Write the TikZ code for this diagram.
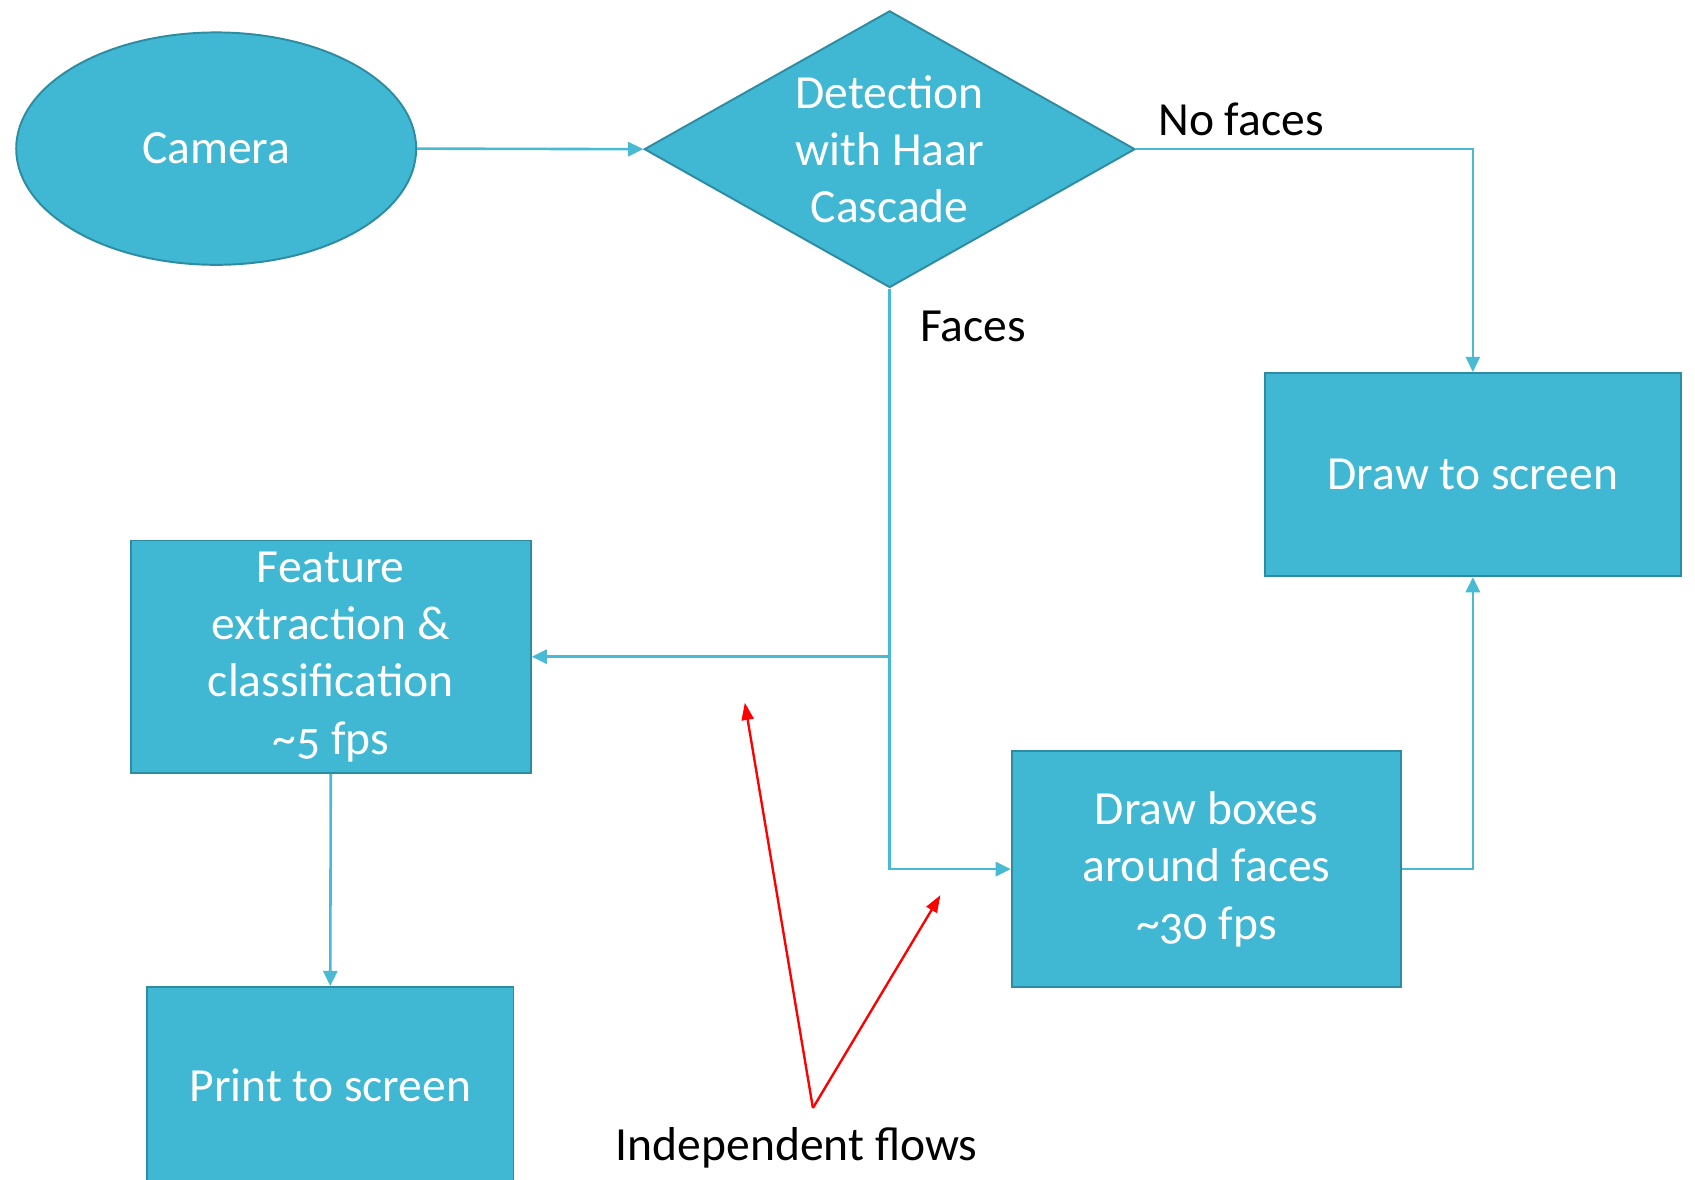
\documentclass[tikz,border=0pt]{standalone}
\usepackage{fontspec}
\setmainfont{Carlito}[Numbers=OldStyle]
\usetikzlibrary{shapes.geometric,arrows.meta}
\definecolor{boxfill}{HTML}{41B8D3}
\definecolor{boxline}{HTML}{2E8CA2}
\definecolor{connc}{HTML}{48BAD4}
\tikzset{
  x=1pt,y=-1pt,
  base/.style={fill=boxfill,draw=boxline,line width=1.8pt,text=white,inner sep=0pt,
    font=\fontsize{44}{53}\selectfont,align=center},
  camshape/.style={base,ellipse,minimum width=370pt,minimum height=215pt},
  decshape/.style={base,diamond,minimum width=454pt,minimum height=256pt,aspect=1.77},
  procbox/.style={base,rectangle},
  conn/.style={draw=connc,line width=2.4pt,-{Triangle[length=14pt,width=13pt]}},
  connplain/.style={draw=connc,line width=2.4pt},
  redarrow/.style={draw=red,line width=2.2pt,-{Triangle[length=16pt,width=11pt]}},
  lbl/.style={text=black,inner sep=0pt,font=\fontsize{44}{53}\selectfont}
}
\begin{document}
\begin{tikzpicture}
\clip (0,0) rectangle (1568,1091);
\useasboundingbox (0,0) rectangle (1568,1091);
\fill[white] (0,0) rectangle (1568,1091);

\node[camshape] (cam) at (200,137.5) {Camera};
\node[decshape] (det) at (823,138) {Detection\\with Haar\\Cascade};
\node[procbox,minimum width=385pt,minimum height=188pt] (scr) at (1362.5,439) {Draw to screen};
\node[procbox,minimum width=370pt,minimum height=215pt] (feat) at (306,607.5) {Feature\\extraction \&\\classification\\\textasciitilde5 fps};
\node[procbox,minimum width=360pt,minimum height=218pt] (boxes) at (1116,804) {Draw boxes\\around faces\\\textasciitilde30 fps};
\node[procbox,minimum width=339pt,minimum height=182pt] (print) at (305.5,1004) {Print to screen};

\node[lbl] (nofaces) at (1148,110) {No faces};
\node[lbl,anchor=west] (faces) at (851,302) {Faces};
\node[lbl] (indep) at (737,1062) {Independent flows};

\draw[conn] (cam.east) -- (det.west);
\draw[conn] (det.east) -| (scr.north);
\draw[conn] (det.south) |- (boxes.west);
\draw[conn] (det.south |- feat.east) -- (feat.east);
\draw[conn] (feat.south) -- (print.north);
\draw[conn] (boxes.east) -| (scr.south);

\coordinate (fl) at (752,1025);
\coordinate (t1) at (689,650);
\coordinate (t2) at (870,828);
\draw[redarrow] (fl) -- (t1);
\draw[redarrow] (fl) -- (t2);
\end{tikzpicture}
\end{document}
